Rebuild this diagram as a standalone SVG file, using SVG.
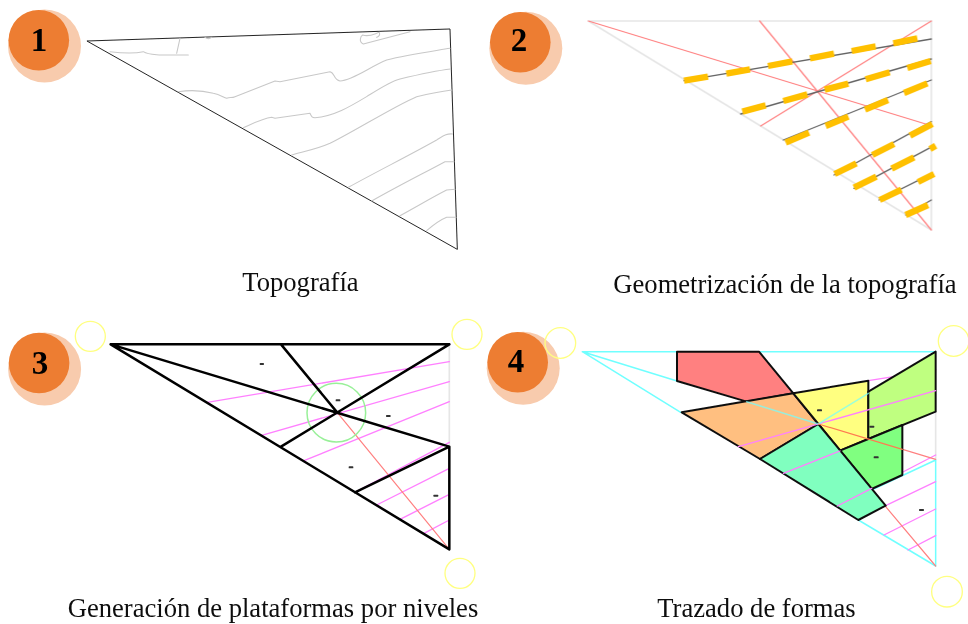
<svg xmlns="http://www.w3.org/2000/svg" width="968" height="624" viewBox="0 0 968 624">
<defs><filter id="soft" x="-2%" y="-2%" width="104%" height="104%"><feGaussianBlur stdDeviation="0.35"/></filter></defs>
<style>
.pale{fill:#f8cbad}
.badge{fill:#ed7d31}
.num{font:bold 33px "Liberation Serif",serif;fill:#000;text-anchor:middle}
.cap{font:26.6px "Liberation Serif",serif;fill:#111;text-anchor:middle}
.p{fill:none;stroke-linecap:round;stroke-linejoin:round}
.outline{stroke:#222;stroke-width:3}
.contour{stroke:#c8c8c8;stroke-width:3.2}
.ghost{stroke:#e6e6e6;stroke-width:5}
.red{stroke:#ff8080;stroke-width:3.6}
.dark{stroke:#666;stroke-width:4}
.dash{stroke:#ffc000;stroke-width:19;stroke-linecap:butt}
.black{stroke:#000;stroke-width:7.500}
.mag{stroke:#ff80ff;stroke-width:4}
.cyan{stroke:#70ffff;stroke-width:4.500}
.ring{fill:none;stroke:#ffff80;stroke-width:4}
.greenring{fill:none;stroke:#98f098;stroke-width:4.500}
.shape{stroke:#111;stroke-width:6;stroke-linejoin:round}
.mark{fill:#333}
</style>
<g filter="url(#soft)">
<g id="panel-1">
<g id="badge-1"><circle class="pale" cx="44.500" cy="46" r="36.500"/><circle class="badge" cx="38.800" cy="40.300" r="30.300"/><text class="num" x="39" y="51">1</text></g>
<g transform="scale(.33333)">
<path class="p outline" d="M262 123L1350 87L1372 747Z"/>
<path class="p contour" d="M330 155C370 160 400 162 430 155C450 168 500 165 565 165M540 115L530 160M615 112Q625 120 635 112M1230 95L1090 132C1075 125 1082 108 1088 105C1110 112 1125 100 1138 97C1142 108 1135 110 1130 112"/>
<path class="p contour" d="M535 275C570 270 610 272 640 280C660 284 670 292 680 295C690 290 695 295 705 290L825 243L840 245L990 215C1005 218 1000 240 1020 243C1060 240 1110 200 1160 180C1220 165 1290 155 1350 145"/>
<path class="p contour" d="M730 383C760 370 790 355 815 352L825 355L930 340C935 350 935 352 945 353C1000 350 1050 320 1100 290C1140 265 1170 245 1200 237C1250 225 1300 213 1352 207"/>
<path class="p contour" d="M875 465C910 455 950 448 990 430C1070 390 1180 320 1250 290C1285 282 1320 275 1355 270"/>
<path class="p contour" d="M1045 562C1130 515 1230 465 1310 420C1330 408 1340 400 1358 402"/>
<path class="p contour" d="M1115 603C1190 560 1270 520 1335 485L1362 485"/>
<path class="p contour" d="M1200 647C1250 620 1300 590 1340 570L1365 568"/>
<path class="p contour" d="M1280 692C1300 675 1320 660 1340 652L1368 652"/>
</g>
<text class="cap" x="300.500" y="291">Topografía</text>
</g>
<g id="panel-2">
<g id="badge-2"><circle class="pale" cx="525.800" cy="48.300" r="36.500"/><circle class="badge" cx="520.300" cy="42.300" r="30.300"/><text class="num" x="519" y="51">2</text></g>
<g transform="translate(484 0) scale(.33333)">
<path class="p ghost" d="M313 63L1342 63L1342 690Z"/>
<path class="p red" d="M313 63L1325 372M827 63L1342 690M1342 63L830 378"/>
<path class="p dark" d="M600 242L1342 117M770 342L1342 177M898 420L1342 240M1050 525L1342 365M1110 565L1350 437M1185 600L1345 520M1265 645L1342 600"/>
<path class="p dash" d="M600 242L672 230M727 221L798 208M852 198L925 184M978 175L1050 161M1103 153L1175 139M1228 130L1300 115"/>
<path class="p dash" d="M775 335L845 316M898 303L970 283M1022 269L1093 251M1145 238L1217 217M1270 204L1340 183"/>
<path class="p dash" d="M905 428L975 398M1025 378L1093 350M1143 329L1212 300M1260 279L1330 250"/>
<path class="p dash" d="M1052 522L1117 490M1165 465L1230 432M1278 407L1345 372"/>
<path class="p dash" d="M1110 563L1177 530M1223 506L1290 472M1338 447L1355 437"/>
<path class="p dash" d="M1187 600L1252 569M1302 546L1350 522"/>
<path class="p dash" d="M1265 645L1332 615"/>
</g>
<text class="cap" x="785" y="293">Geometrización de la topografía</text>
</g>
<g id="panel-3">
<g id="badge-3"><circle class="pale" cx="44.600" cy="369" r="36.500"/><circle class="badge" cx="39.100" cy="363" r="30.300"/><text class="num" x="40" y="373.500">3</text></g>
<g transform="translate(0 310) scale(.33333)">
<path class="p ghost" d="M1348 103L1348 410"/>
<path class="p mag" d="M622 277L1348 155M785 376L1348 215M912 452L1348 275M1065 547L1348 397M1130 585L1348 475M1200 628L1348 553M1272 670L1348 630"/>
<path class="p red" d="M1012 308L1348 718"/>
<circle class="greenring" cx="1009" cy="308" r="88"/>
<path class="p black" d="M332 103L1348 103M332 103L1348 718L1348 410L1065 547M332 103L1348 410M843 103L1012 308M1348 103L843 410"/>
<circle class="ring" cx="271" cy="79" r="45"/><circle class="ring" cx="1401" cy="73" r="45"/><circle class="ring" cx="1380" cy="790" r="45"/>
<g class="mark"><rect x="779" y="159" width="13" height="6" rx="2"/><rect x="1007" y="268" width="14" height="6" rx="2"/><rect x="1158" y="315" width="14" height="6" rx="2"/><rect x="1046" y="469" width="14" height="6" rx="2"/><rect x="1300" y="554" width="15" height="6" rx="2"/></g>
</g>
<text class="cap" x="273" y="617">Generación de plataformas por niveles</text>
</g>
<g id="panel-4">
<g id="badge-4"><circle class="pale" cx="523.200" cy="368.300" r="36.500"/><circle class="badge" cx="517.700" cy="362.300" r="30.300"/><text class="num" x="516" y="372.300">4</text></g>
<g transform="translate(484 310) scale(.33333)">
<path class="p ghost" d="M1355 305L1355 450"/>
<path class="p cyan" d="M295 125L1355 125M295 125L590 307M295 125L579 213M1123 630L1355 768L1355 450L1163 540"/>
<path class="p mag" d="M1153 212L1355 180M1060 588L1355 435M1205 587L1355 515M1200 675L1355 597M1272 720L1355 677"/>
<path class="p red" d="M1205 590L1355 768M1003 342L1355 448"/>
<g class="shape">
<path fill="#ff8080" d="M579 125L825 125L928 250L788 275L579 213Z"/>
<path fill="#ffbf80" d="M593 307L928 250L1003 342L828 447Z"/>
<path fill="#ffff80" d="M928 250L1153 212L1153 387L1068 422L1003 342Z"/>
<path fill="#bfff80" d="M1153 245L1355 125L1355 305L1153 387Z"/>
<path fill="#80ff80" d="M1068 422L1153 387L1255 345L1255 495L1163 537Z"/>
<path fill="#80ffbf" d="M828 447L1003 342L1205 587L1123 630Z"/>
</g>
<path class="p mag" d="M763 410L1355 242M898 490L1068 423M1060 588L1163 535"/>
<path class="p cyan" d="M788 275L1003 342L1153 250" stroke-opacity=".7"/>
<path class="p" stroke="#ff7a50" stroke-width="3.500" d="M1003 342L1255 418"/>
<circle class="ring" cx="229" cy="99" r="46"/><circle class="ring" cx="1409" cy="93" r="46"/><circle class="ring" cx="1389" cy="845" r="46"/>
<g class="mark"><rect x="999" y="298" width="15" height="6" rx="2"/><rect x="1156" y="347" width="15" height="6" rx="2"/><rect x="1169" y="439" width="15" height="6" rx="2"/><rect x="1305" y="597" width="15" height="6" rx="2"/></g>
</g>
<text class="cap" x="756.500" y="617">Trazado de formas</text>
</g>
</g>
</svg>
